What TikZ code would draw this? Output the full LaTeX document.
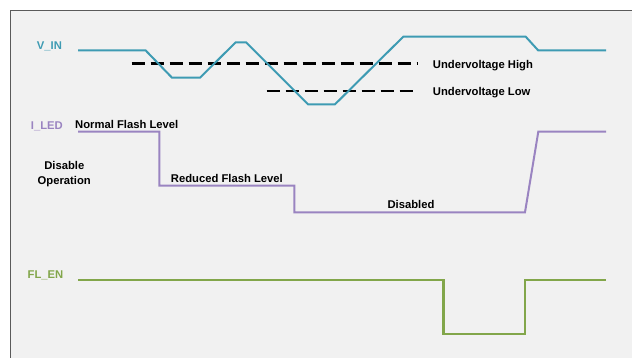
\documentclass[tikz,border=0pt]{standalone}
\usepackage{fontspec}
\setmainfont{Liberation Sans}
\definecolor{vin}{HTML}{3E9BB3}
\definecolor{iled}{HTML}{9A84C1}
\definecolor{flen}{HTML}{82A64A}
\definecolor{bg}{HTML}{F1F1F1}
\definecolor{frame}{HTML}{5A5A5A}
\tikzset{
  lbl/.style={font=\fontsize{11.25}{12}\selectfont\bfseries, inner sep=0pt, anchor=base west},
  clbl/.style={font=\fontsize{11.25}{12}\selectfont\bfseries, inner sep=0pt, anchor=base},
  wave/.style={line width=2pt, line join=miter},
  thresh/.style={line width=2.4pt, black, dash pattern=on 13pt off 6pt},
}
\begin{document}
\begin{tikzpicture}[x=1pt,y=-1pt]
\useasboundingbox (0,0) rectangle (632,358);
\clip (0,0) rectangle (632,358);
\fill[white] (0,0) rectangle (632,358);
\draw[frame, line width=1.2pt, fill=bg] (10.5,10.5) rectangle (660,380);
% thresholds
\coordinate (uh1) at (131.7,63.5);
\coordinate (uh2) at (417,63.5);
\coordinate (ul1) at (266.7,91);
\coordinate (ul2) at (417,91);
\draw[thresh] (uh1) -- (uh2);
\draw[thresh] (ul1) -- (ul2);
% V_IN
\draw[wave, vin] (78,50.5) -- (145.7,50.5) -- (172,77.7) -- (200,77.7) -- (235.7,42.3) -- (246,42.3) -- (308,104.3) -- (335,104.3) -- (403.3,36.7) -- (525.7,36.7) -- (538.3,50.5) -- (606,50.5);
% I_LED
\draw[wave, iled] (78,131.7) -- (159.3,131.7) -- (159.3,185.7) -- (294.3,185.7) -- (294.3,212.3) -- (525,212.3) -- (538.3,131.7) -- (606,131.7);
% FL_EN
\draw[wave, flen, line width=2.3pt] (78,280) -- (443.5,280) -- (443.5,334) -- (525,334) -- (525,280) -- (606,280);
% labels
\node[lbl, text=vin] (lvin) at (36.7,49.3) {V\_IN};
\node[lbl, text=iled] (liled) at (30.7,129.5) {I\_LED};
\node[lbl, text=flen] (lflen) at (27.5,279) {FL\_EN};
\node[lbl] (luh) at (432.7,68.3) {Undervoltage High};
\node[lbl] (lul) at (432.7,95.3) {Undervoltage Low};
\node[lbl] (lnfl) at (75,128.3) {Normal Flash Level};
\node[lbl] (lrfl) at (170.7,182.3) {Reduced Flash Level};
\node[lbl] (ldis) at (387.3,209) {Disabled};
\node[clbl] (ldo1) at (64.3,170) {Disable};
\node[clbl] (ldo2) at (64.3,185) {Operation};
\end{tikzpicture}
\end{document}
